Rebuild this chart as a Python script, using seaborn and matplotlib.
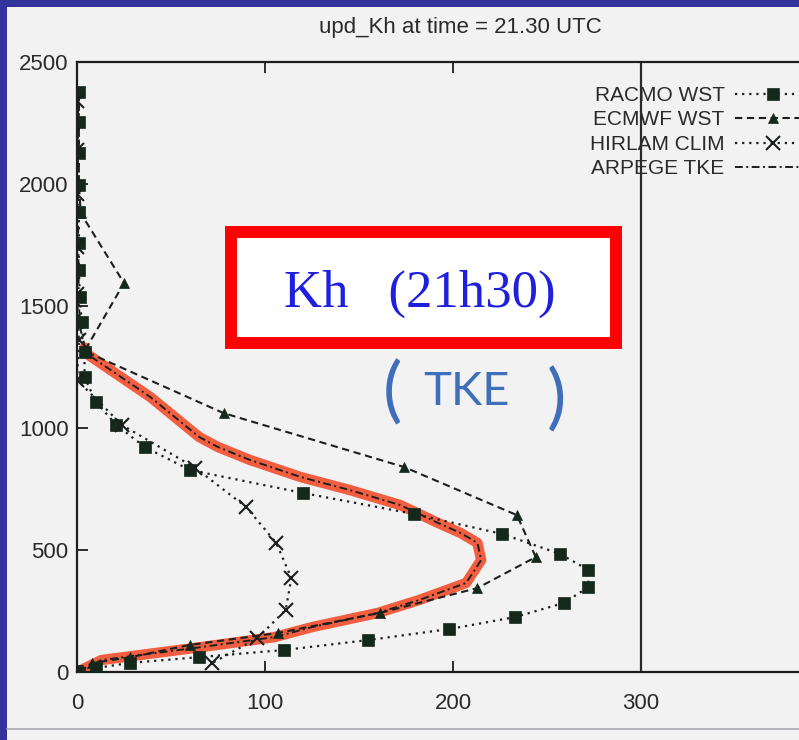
import matplotlib
matplotlib.use("Agg")
import matplotlib.pyplot as plt
from matplotlib.patches import Rectangle
from matplotlib.lines import Line2D
import seaborn as sns

# Vertical profiles of the heat diffusion coefficient Kh (m2/s) vs height (m)
racmo_kh = [1, 1, 1, 1, 1, 1, 1, 1.5, 2.5, 4, 4, 10, 21, 36, 60, 120, 179, 226,
            257, 272, 272, 259, 233, 198, 155, 110, 65, 28, 10, 0]
racmo_z = [2377, 2254, 2127, 1996, 1885, 1758, 1648, 1537, 1434, 1311, 1209, 1107,
           1012, 922, 828, 734, 648, 566, 484, 418, 348, 283, 225, 176, 131, 90,
           61, 37, 16, 5]

ecmwf_kh = [1, 1, 1, 1, 2, 25, 4, 78, 174, 234, 244, 213, 161, 107, 60, 28, 8, 0]
ecmwf_z = [2377, 2254, 2127, 1996, 1880, 1594, 1315, 1061, 840, 643, 471, 344,
           242, 160, 111, 60, 37, 0]

hirlam_kh = [0, 0, 0, 0, 0, 1, 0, 24, 63, 90, 106, 114, 111, 96, 72]
hirlam_z = [2340, 2140, 1960, 1740, 1550, 1360, 1197, 1012, 836, 676, 529, 385,
            254, 139, 37]

arpege_kh = [0.5, 0.5, 1, 2, 4, 6, 39, 65, 75, 92, 119, 145, 172, 192, 204, 213,
             215, 207, 182, 160, 125, 105, 66, 13, 0]
arpege_z = [2377, 1880, 1500, 1400, 1330, 1300, 1127, 963, 922, 869, 799, 746,
            684, 611, 570, 529, 459, 365, 295, 242, 184, 143, 102, 49, 0]

series_names = ["RACMO WST", "ECMWF WST", "HIRLAM CLIM", "ARPEGE TKE"]
x_ticks = [0, 100, 200, 300]
y_ticks = [0, 500, 1000, 1500, 2000, 2500]

sns.set_style("ticks")
plt.rcParams["font.family"] = ["Liberation Sans", "DejaVu Sans"]

W, H = 799, 740
fig = plt.figure(figsize=(W / 100, H / 100), dpi=100)
fig.patch.set_facecolor("#33339a")

# scanned page
fig.patches.append(Rectangle((7 / W, 0), 1, 1 - 7 / H, transform=fig.transFigure,
                             facecolor="#f2f2f3", edgecolor="none", zorder=-10))
fig.lines.append(Line2D([7 / W, 1], [1 - 729 / H, 1 - 729 / H],
                        transform=fig.transFigure, color="#a8a8ae", lw=1.2))

ax = fig.add_axes([77 / W, 1 - 672 / H, 752 / W, 610 / H])
ax.set_facecolor("none")

ink = "#1c1f1e"
mk = "#14281c"

# hand-drawn highlight over the lower TKE profile
hl = [(k, z) for k, z in zip(arpege_kh, arpege_z) if z <= 1330]
sns.lineplot(x=[p[0] for p in hl], y=[p[1] for p in hl], sort=False, estimator=None,
             color="#f24a26", lw=7.5, alpha=0.88, solid_capstyle="round",
             legend=False, ax=ax, zorder=1)

sns.lineplot(x=racmo_kh, y=racmo_z, sort=False, estimator=None, ax=ax,
             color=ink, lw=1.6, linestyle=(0, (1, 2.2)), marker="s", markersize=8,
             markerfacecolor=mk, markeredgecolor=mk, markeredgewidth=0.5,
             label=series_names[0], zorder=3)
sns.lineplot(x=ecmwf_kh, y=ecmwf_z, sort=False, estimator=None, ax=ax,
             color=ink, lw=1.5, linestyle=(0, (3.5, 2.2)), marker="^", markersize=7.5,
             markerfacecolor=mk, markeredgecolor=mk, markeredgewidth=0.5,
             label=series_names[1], zorder=3)
sns.lineplot(x=hirlam_kh, y=hirlam_z, sort=False, estimator=None, ax=ax,
             color=ink, lw=1.6, linestyle=(0, (1, 2.2)), marker="x", markersize=10,
             markeredgecolor=ink, markeredgewidth=1.5,
             label=series_names[2], zorder=3)
sns.lineplot(x=arpege_kh, y=arpege_z, sort=False, estimator=None, ax=ax,
             color=ink, lw=1.4, linestyle=(0, (4, 1.8, 1, 1.8)),
             label=series_names[3], zorder=2)

ax.axvline(300, color="#2a2a2a", lw=1.6, zorder=2)

ax.set_xlim(0, 400)
ax.set_ylim(0, 2500)
ax.set_xticks(x_ticks)
ax.set_yticks(y_ticks)
ax.set_xlabel("")
ax.set_ylabel("")
for side in ["left", "top", "bottom"]:
    ax.spines[side].set_color("#1e1e1e")
    ax.spines[side].set_linewidth(1.6)
ax.spines["right"].set_visible(False)
ax.tick_params(axis="both", direction="in", length=8, width=1.3, color="#1e1e1e",
               top=True, right=True, labelsize=16, labelcolor="#2a2a2a")
ax.tick_params(axis="x", pad=15)
ax.tick_params(axis="y", pad=6)

leg = ax.legend(loc="upper left", bbox_to_anchor=(590 / W, 1 - 86 / H),
                bbox_transform=fig.transFigure, frameon=False, markerfirst=False,
                fontsize=15, handlelength=3.65, handletextpad=0.5,
                labelspacing=0.26, borderpad=0, borderaxespad=0, numpoints=1)
for t in leg.get_texts():
    t.set_color("#2a2a2a")

fig.text(460 / W, 1 - 28 / H, "upd_Kh at time = 21.30 UTC", ha="center",
         va="center", fontsize=16, color="#2a2a2a")

# boxed caption
fig.patches.append(Rectangle((231 / W, 1 - 343 / H), 385 / W, 111 / H,
                             transform=fig.transFigure, facecolor="white",
                             edgecolor="#ff0000", lw=8.6, zorder=5))
fig.text(420 / W, 1 - 307 / H, "Kh   (21h30)", ha="center", va="baseline",
         fontsize=38, color="#1f1fe0", family=["Liberation Serif", "DejaVu Serif"],
         zorder=6)

# handwritten note
pen = "#3f6fba"
note_font = ["Lato", "DejaVu Sans"]
fig.text(392 / W, 1 - 393 / H, "(", ha="center", va="center", fontsize=52,
         color=pen, family=note_font)
fig.text(466 / W, 1 - 392 / H, "TKE", ha="center", va="center", fontsize=34,
         color=pen, family=note_font)
fig.text(556 / W, 1 - 400 / H, ")", ha="center", va="center", fontsize=52,
         color=pen, family=note_font)

fig.savefig("out.png", dpi=100, facecolor=fig.get_facecolor())
